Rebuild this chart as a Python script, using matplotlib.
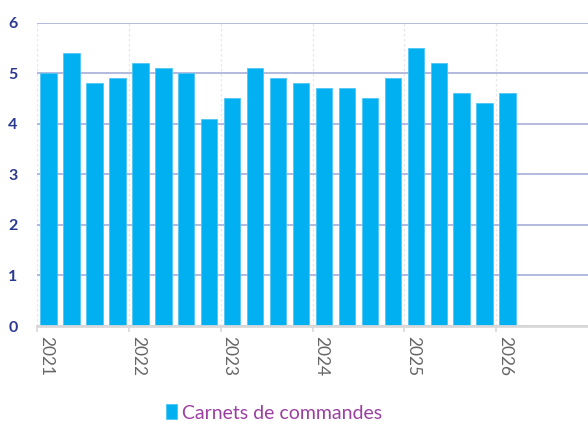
import matplotlib
matplotlib.use("Agg")
import matplotlib.pyplot as plt
import numpy as np

years = ["2021", "2022", "2023", "2024", "2025", "2026"]
values = [5.0, 5.4, 4.8, 4.9, 5.2, 5.1, 5.0, 4.1, 4.5, 5.1, 4.9, 4.8,
          4.7, 4.7, 4.5, 4.9, 5.5, 5.2, 4.6, 4.4, 4.6]
n_slots = 24
series_name = "Carnets de commandes"

plt.rcParams['font.family'] = ['Lato', 'DejaVu Sans']

fig = plt.figure(figsize=(5.88, 4.22), dpi=100)
ax = fig.add_axes([37/588, 1 - 326/422, 1 - 37/588, (326 - 22.5)/422])

x = np.arange(len(values))
ax.bar(x, values, width=0.72, color="#00B0F0", edgecolor="#4FC6F3",
       linewidth=0.6, zorder=3, label=series_name)

ax.set_xlim(-0.5, n_slots - 0.5)
ax.set_ylim(0, 6)
ax.set_yticks(range(0, 7))
ax.tick_params(axis='y', length=0, pad=14, labelsize=11.5, labelcolor="#2B3990")
for lab in ax.get_yticklabels():
    lab.set_fontweight('bold')

ax.grid(axis='y', color="#AEB3DC", linewidth=1.3, zorder=1)
year_pos = np.arange(len(years)) * 4 - 0.5
for xp in year_pos:
    ax.axvline(xp, color="#E6E6E6", linewidth=0.9, linestyle=(0, (2, 2)), zorder=1)

ax.set_xticks(year_pos)
ax.set_xticklabels(years, rotation=-90, ha='left', va='top', color="#666666",
                   fontsize=12.5)
ax.tick_params(axis='x', length=4, width=1.2, color="#D9D9D9", pad=3)
for lab in ax.get_xticklabels():
    lab.set_transform(lab.get_transform() + matplotlib.transforms.ScaledTranslation(1/100, 0, fig.dpi_scale_trans))

for s in ['top', 'right', 'left']:
    ax.spines[s].set_visible(False)
ax.spines['bottom'].set_color("#D9D9D9")
ax.spines['bottom'].set_linewidth(2)
ax.spines['bottom'].set_zorder(4)

leg = fig.legend(loc='center', bbox_to_anchor=(274/588, 1 - 413/422), frameon=False,
                 prop={'size': 14}, handlelength=0.55, handleheight=0.8,
                 handletextpad=0.25)
for t in leg.get_texts():
    t.set_color("#9B3FA0")

fig.savefig("out.png", dpi=100)
